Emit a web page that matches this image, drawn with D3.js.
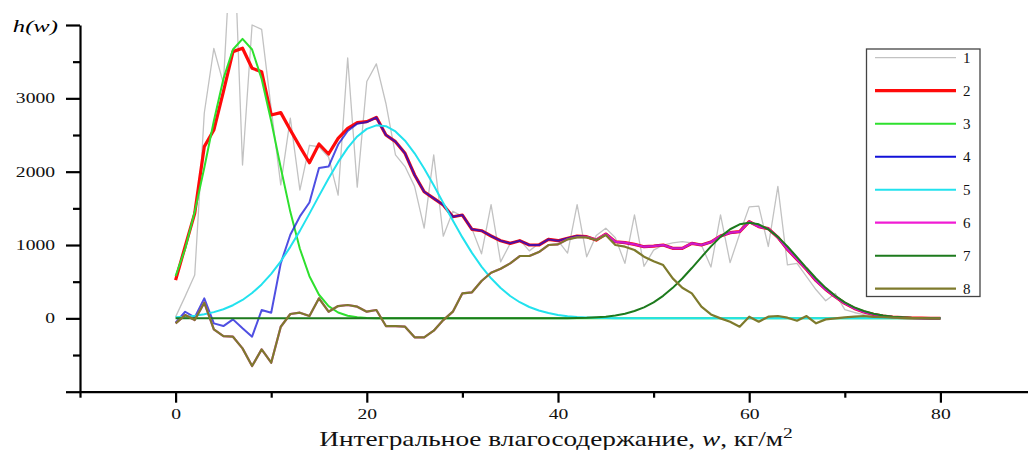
<!DOCTYPE html>
<html>
<head>
<meta charset="utf-8">
<script src="https://cdn.jsdelivr.net/npm/d3@7/dist/d3.min.js"></script>
<style>
body { margin: 0; background: #fff; }
svg { display: block; font-family: "Liberation Serif", "Times New Roman", serif; }
</style>
</head>
<body>
<div id="chart"></div>
<script>
"use strict";

// integral water vapour, kg/m2
var wValues = [0,1,2,3,4,5,6,7,8,9,10,11,12,13,14,15,16,17,18,19,20,21,22,23,24,25,26,27,28,29,
  30,31,32,33,34,35,36,37,38,39,40,41,42,43,44,45,46,47,48,49,50,51,52,53,54,55,56,57,58,59,
  60,61,62,63,64,65,66,67,68,69,70,71,72,73,74,75,76,77,78,79,80];

// 1 - raw histogram
var rawHist = [20,300,590,2800,3680,3200,5600,2090,4000,3940,
  2860,1820,2730,1750,2360,2340,2200,1680,3550,1790,
  3230,3470,2930,2230,2070,1800,1230,2230,1120,1460,
  1390,1220,880,1550,770,1020,1070,920,1020,1090,
  1060,890,1550,840,1130,1230,1100,750,1410,710,
  930,1000,1030,1045,1030,1000,700,1410,760,1150,
  1520,1530,980,1800,730,750,570,390,240,340,
  120,80,50,30,20,10,5,3,2,1,0];

// 2 - smoothed
var smoothed = [522,980,1432,2341,2568,3091,3637,3683,3410,3364,
  2773,2805,2568,2341,2122,2377,2241,2455,2591,2668,
  2682,2741,2500,2409,2250,1955,1727,1636,1545,1386,
  1409,1214,1195,1123,1059,1023,1059,1000,1000,1077,
  1059,1091,1123,1114,1068,1150,1045,1032,1009,977,
  986,1000,955,955,1023,1000,1041,1123,1168,1182,
  1318,1250,1223,1105,941,805,668,514,395,295,
  205,136,86,55,32,18,10,5,2,1,0];

// 3 - first fitted mode
var mode1 = [575,949,1452,2054,2692,3265,3666,3810,3666,3265,
  2692,2054,1452,949,575,322,167,80,36,15,
  6,2,0,0,0,0,0,0,0,0,
  0,0,0,0,0,0,0,0,0,0,
  0,0,0,0,0,0,0,0,0,0,
  0,0,0,0,0,0,0,0,0,0,
  0,0,0,0,0,0,0,0,0,0,
  0,0,0,0,0,0,0,0,0,0,0];

// 4 - residual after mode 1
var resid1 = [-60,90,14,273,-68,-105,-14,-136,-250,113,
  77,750,1140,1390,1580,2050,2070,2370,2555,2655,
  2676,2739,2500,2409,2250,1955,1727,1636,1545,1386,
  1409,1214,1195,1123,1059,1023,1059,1000,1000,1077,
  1059,1091,1123,1114,1068,1150,1045,1032,1009,977,
  986,1000,955,955,1023,1000,1041,1123,1168,1182,
  1318,1250,1223,1105,941,805,668,514,395,295,
  205,136,86,55,32,18,10,5,2,1,0];

// 5 - second fitted mode
var mode2 = [14,23,36,56,85,124,179,251,345,463,
  607,778,975,1193,1428,1670,1907,2130,2325,2480,
  2584,2632,2620,2549,2423,2251,2044,1814,1573,1333,
  1104,893,706,546,413,305,220,155,107,72,
  47,30,19,12,7,4,2,1,0,0,
  0,0,0,0,0,0,0,0,0,0,
  0,0,0,0,0,0,0,0,0,0,
  0,0,0,0,0,0,0,0,0,0,0];

// 6 - residual after modes 1, 2
var resid2 = [-68,45,-23,213,-150,-241,-250,-409,-650,-423,
  -605,-114,59,77,32,273,91,168,182,159,
  91,114,-105,-105,-114,-259,-259,-168,-23,91,
  341,355,509,622,677,750,850,850,904,1000,
  1010,1079,1109,1112,1075,1150,1045,1032,1009,977,
  986,1000,955,955,1023,1000,1041,1123,1168,1182,
  1318,1250,1223,1105,941,805,668,514,395,295,
  205,136,86,55,32,18,10,5,2,1,0];

// 7 - third fitted mode
var mode3 = [0,0,0,0,0,0,0,0,0,0,
  0,0,0,0,0,0,0,0,0,0,
  0,0,0,0,0,0,0,0,0,0,
  0,0,0,0,0,0,0,0,0,1,
  1,2,4,7,14,23,39,64,100,150,
  219,307,416,544,686,835,981,1111,1215,1282,
  1305,1282,1215,1111,981,835,686,544,416,307,
  219,150,100,64,39,23,14,7,4,2,1];

// 8 - residual after modes 1, 2, 3
var resid3 = [-68,45,-23,213,-150,-241,-250,-409,-650,-423,
  -605,-114,59,77,32,273,91,168,182,159,
  91,114,-105,-105,-114,-259,-259,-168,-23,91,
  341,355,509,622,677,750,850,850,904,1000,
  1009,1077,1105,1105,1068,1136,1000,977,932,841,
  780,727,545,418,341,159,54,0,-46,-114,
  23,-46,23,32,9,-32,32,-68,-14,0,
  14,23,32,20,15,10,5,3,2,1,0];

var seriesNames = ["1", "2", "3", "4", "5", "6", "7", "8"];
var xMajor = [0, 20, 40, 60, 80];
var xMinor = [-10, 10, 30, 50, 70, 90];
var yMajor = [-1000, 0, 1000, 2000, 3000, 4000];
var yMinor = [-500, 500, 1500, 2500, 3500];
var yLabeled = [0, 1000, 2000, 3000];

var series = [
  {name: seriesNames[0], values: rawHist,  color: "#c2c2c2", width: 1.3, opacity: 1},
  {name: seriesNames[1], values: smoothed, color: "#ff0a0a", width: 3.2, opacity: 1},
  {name: seriesNames[2], values: mode1,    color: "#2ee02e", width: 2,   opacity: 1},
  {name: seriesNames[3], values: resid1,   color: "#1212d8", width: 2,   opacity: 0.74}, // over red it turns purple
  {name: seriesNames[4], values: mode2,    color: "#22e2ee", width: 2,   opacity: 1},
  {name: seriesNames[5], values: resid2,   color: "#f01cd4", width: 2.2, opacity: 0.8},
  {name: seriesNames[6], values: mode3,    color: "#1d7a1d", width: 2,   opacity: 1},
  {name: seriesNames[7], values: resid3,   color: "#7e7a2c", width: 2.2, opacity: 1}
];

var w = 1028;
var h = 450;
var axisY = 391.7;

var svg = d3.select("#chart")
            .append("svg")
            .attr("width", w)
            .attr("height", h);

var x = d3.scaleLinear().domain([-10, 90]).range([80, 1036]);
var y = d3.scaleLinear().domain([-1000, 4000]).range([axisY, 25]);

svg.append("defs").append("clipPath")
   .attr("id", "plotClip")
   .append("rect")
   .attr("x", 80).attr("y", 13)
   .attr("width", w - 80).attr("height", axisY - 13);

var line = d3.line()
             .x(function(d, i){ return x(wValues[i]); })
             .y(function(d){ return y(d); });

var plot = svg.append("g").attr("clip-path", "url(#plotClip)");

series.forEach(function(s){
    plot.append("path")
        .datum(s.values)
        .attr("d", line)
        .attr("fill", "none")
        .attr("stroke", s.color)
        .attr("stroke-opacity", s.opacity)
        .attr("stroke-width", s.width)
        .attr("stroke-linejoin", "round");
});

// axes
var xAxis = svg.append("g")
               .attr("transform", "translate(0," + axisY + ")")
               .call(d3.axisBottom(x).tickValues(xMajor).tickSize(11).tickSizeOuter(0));
svg.append("g")
   .attr("transform", "translate(0," + axisY + ")")
   .call(d3.axisBottom(x).tickValues(xMinor).tickSize(6).tickFormat(""))
   .select(".domain").remove();

var yAxis = svg.append("g")
               .attr("transform", "translate(80,0)")
               .call(d3.axisLeft(y).tickValues(yMajor).tickSize(14).tickSizeOuter(0)
                     .tickFormat(function(d){ return yLabeled.indexOf(d) >= 0 ? d : ""; }));
svg.append("g")
   .attr("transform", "translate(80,0)")
   .call(d3.axisLeft(y).tickValues(yMinor).tickSize(7).tickFormat(""))
   .select(".domain").remove();

svg.selectAll(".domain, .tick line")
   .attr("stroke", "#000")
   .attr("stroke-width", 2.2);

xAxis.selectAll("text")
     .attr("y", 17)
     .attr("transform", "scale(1.4,1)")
     .style("font-size", "14px")
     .style("font-family", "Liberation Serif")
     .attr("fill", "#111");

yAxis.selectAll("text")
     .attr("x", -25 / 1.4)
     .attr("transform", "scale(1.4,1)")
     .style("font-size", "14px")
     .style("font-family", "Liberation Serif")
     .attr("fill", "#111");

// axis titles
svg.append("text")
   .attr("transform", "translate(58,32) scale(1.45,1)")
   .attr("text-anchor", "end")
   .style("font-size", "17px")
   .style("font-style", "italic")
   .text("h(w)");

var xt = svg.append("text")
            .attr("transform", "translate(556,446) scale(1.3,1)")
            .attr("text-anchor", "middle")
            .style("font-size", "21px")
            .attr("fill", "#111");
xt.append("tspan").text("Интегральное влагосодержание, ");
xt.append("tspan").style("font-style", "italic").text("w");
xt.append("tspan").text(", кг/м");
xt.append("tspan").attr("dy", -8).style("font-size", "15px").text("2");

// legend
var legend = svg.append("g");
legend.append("rect")
      .attr("x", 866.5).attr("y", 49)
      .attr("width", 113.5).attr("height", 247.5)
      .attr("fill", "#fff")
      .attr("stroke", "#444")
      .attr("stroke-width", 1.3);

var entry = legend.selectAll("g.entry")
                  .data(series)
                  .enter()
                  .append("g")
                  .attr("class", "entry")
                  .attr("transform", function(d, i){ return "translate(0," + (57.7 + i * 33) + ")"; });
entry.append("line")
     .attr("x1", 875).attr("x2", 956)
     .attr("stroke", function(d){ return d.color; })
     .attr("stroke-width", function(d){ return d.width; });
entry.append("text")
     .attr("x", 963).attr("y", 5)
     .style("font-size", "15px")
     .attr("fill", "#111")
     .text(function(d){ return d.name; });
</script>
</body>
</html>
